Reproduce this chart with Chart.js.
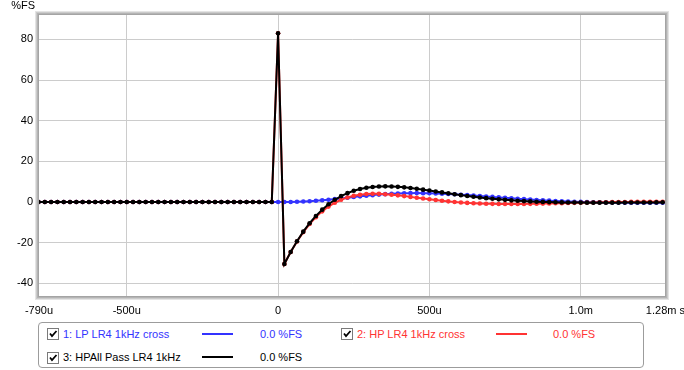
<!DOCTYPE html>
<html><head><meta charset="utf-8">
<script src="https://cdn.jsdelivr.net/npm/chart.js@4.4.1/dist/chart.umd.min.js"></script>
<style>
body{margin:0;background:#fff;width:684px;height:370px;overflow:hidden;font-family:"Liberation Sans",Arial,sans-serif;}
#wrap{position:absolute;left:0;top:0;width:684px;height:321px;}
#legend{position:absolute;left:38px;top:322px;width:604px;height:44px;border:1px solid #9c9c9c;border-radius:4px;}
.lg{position:absolute;font-size:11px;line-height:14px;white-space:nowrap;}
.cb{position:absolute;width:10px;height:10px;border:1px solid #7a7a7a;background:#fff;}
.cb svg{position:absolute;left:0;top:0;}
.ln{position:absolute;height:2px;width:31px;}
</style></head>
<body>
<div id="wrap"><canvas id="c" width="684" height="321"></canvas></div>
<div id="legend"></div>
<script>
// ---- data ----
const sampleRateHz = 48000;
const firstSample = -38;
const seriesNames = ['1: LP LR4 1kHz cross', '2: HP LR4 1kHz cross', '3: HPAll Pass LR4 1kHz'];
const seriesColors = ['#3333ff', '#ff3333', '#000000'];
const legendReadouts = ['0.0 %FS', '0.0 %FS', '0.0 %FS'];
const xTickValues = [-790, -500, 0, 500, 1000, 1280];
const xTickLabels = ['-790u', '-500u', '0', '500u', '1.0m', '1.28m s'];
const yTickValues = [-40, -20, 0, 20, 40, 60, 80];
const yTickLabels = ['-40', '-20', '0', '20', '40', '60', '80'];
const yUnit = '%FS';

const lpValues = [
  0,0,0,0,0,0,0,0,0,0, 0,0,0,0,0,0,0,0,0,0, 0,0,0,0,0,0,0,0,0,0, 0,0,0,0,0,0,0,0,
  0, 0.00, 0.03, 0.10, 0.21, 0.38, 0.59, 0.84, 1.13, 1.45,
  1.78, 2.12, 2.46, 2.78, 3.09, 3.38, 3.63, 3.85, 4.04, 4.18,
  4.28, 4.35, 4.37, 4.35, 4.30, 4.21, 4.10, 3.95, 3.79, 3.60,
  3.40, 3.18, 2.96, 2.73, 2.50, 2.27, 2.04, 1.81, 1.60, 1.39,
  1.19, 1.00, 0.83, 0.66, 0.51, 0.38, 0.25, 0.14, 0.05, -0.04,
  -0.11, -0.17, -0.22, -0.26, -0.30, -0.32, -0.34, -0.35, -0.35, -0.35,
  -0.34, -0.34
];
const hpValues = [
  0,0,0,0,0,0,0,0,0,0, 0,0,0,0,0,0,0,0,0,0, 0,0,0,0,0,0,0,0,0,0, 0,0,0,0,0,0,0,0,
  83, -30.49, -24.61, -19.39, -14.80, -10.83, -7.44, -4.60, -2.25, -0.37,
  1.12, 2.25, 3.05, 3.60, 3.91, 4.03, 4.00, 3.84, 3.59, 3.28,
  2.91, 2.52, 2.12, 1.72, 1.33, 0.96, 0.62, 0.31, 0.02, -0.22,
  -0.43, -0.59, -0.74, -0.84, -0.92, -0.97, -0.99, -0.99, -0.98, -0.95,
  -0.90, -0.85, -0.78, -0.71, -0.64, -0.57, -0.50, -0.42, -0.35, -0.28,
  -0.22, -0.16, -0.11, -0.06, -0.01, 0.02, 0.06, 0.09, 0.11, 0.13,
  0.14, 0.15
];
const apValues = [
  0,0,0,0,0,0,0,0,0,0, 0,0,0,0,0,0,0,0,0,0, 0,0,0,0,0,0,0,0,0,0, 0,0,0,0,0,0,0,0,
  83, -30.49, -24.58, -19.29, -14.58, -10.45, -6.85, -3.76, -1.12, 1.08,
  2.90, 4.36, 5.51, 6.38, 7.00, 7.41, 7.63, 7.70, 7.63, 7.46,
  7.20, 6.87, 6.49, 6.07, 5.63, 5.17, 4.71, 4.26, 3.81, 3.38,
  2.97, 2.59, 2.23, 1.89, 1.58, 1.30, 1.05, 0.82, 0.62, 0.44,
  0.29, 0.15, 0.04, -0.05, -0.13, -0.19, -0.24, -0.28, -0.30, -0.32,
  -0.33, -0.33, -0.33, -0.32, -0.31, -0.30, -0.28, -0.26, -0.24, -0.22,
  -0.20, -0.18
];

// ---- build ----
const timeUs = lpValues.map((_, i) => (firstSample + i) * 1e6 / sampleRateHz);
const allSeries = [lpValues, hpValues, apValues];
const drawOrder = [3, 2, 1];
const FONT = {family: '"Liberation Sans", Arial, sans-serif', size: 11};

const datasets = allSeries.map((vals, s) => ({
  label: seriesNames[s],
  data: timeUs.map((t, i) => ({x: t, y: vals[i]})),
  borderColor: seriesColors[s],
  backgroundColor: seriesColors[s],
  pointBackgroundColor: seriesColors[s],
  pointBorderWidth: 0,
  pointRadius: 2.3,
  borderWidth: 2,
  tension: 0,
  order: drawOrder[s]
}));

const framePlugin = {
  id: 'frame',
  afterDraw(chart) {
    const {ctx, chartArea: a} = chart;
    const cols = ['#a4a4a4', '#b4b4b4', '#cbcbcb', '#e4e4e4'];
    ctx.save();
    ctx.lineWidth = 1;
    cols.forEach((c, k) => {
      ctx.strokeStyle = c;
      ctx.strokeRect(Math.round(a.left) - 0.5 - k, Math.round(a.top) - 0.5 - k,
        Math.round(a.right) - Math.round(a.left) + 1 + 2 * k,
        Math.round(a.bottom) - Math.round(a.top) + 1 + 2 * k);
    });
    ctx.fillStyle = '#000';
    ctx.font = '11px "Liberation Sans", Arial, sans-serif';
    ctx.textAlign = 'right';
    ctx.textBaseline = 'middle';
    ctx.fillText(yUnit, 35, 6);
    ctx.restore();
  }
};

new Chart(document.getElementById('c'), {
  type: 'line',
  data: {datasets},
  options: {
    responsive: false,
    animation: false,
    devicePixelRatio: 1,
    layout: {padding: {top: 15, right: 0, left: 0, bottom: 0}},
    plugins: {legend: {display: false}, tooltip: {enabled: false}},
    scales: {
      x: {
        type: 'linear',
        min: -790, max: 1280,
        afterBuildTicks: sc => { sc.ticks = xTickValues.map(v => ({value: v})); },
        afterFit: sc => { sc.height = 25; },
        ticks: {
          autoSkip: false, maxRotation: 0, padding: -1, color: '#000', font: FONT,
          callback: (v, i) => xTickLabels[i]
        },
        grid: {
          color: c => (c.tick && (c.tick.value === xTickValues[0] || c.tick.value === xTickValues[xTickValues.length - 1])) ? 'rgba(0,0,0,0)' : '#cccccc',
          lineWidth: 1, drawTicks: true, tickLength: 9, tickColor: 'rgba(0,0,0,0)'
        },
        border: {display: false}
      },
      y: {
        type: 'linear',
        min: -46.23, max: 91.97,
        afterBuildTicks: sc => { sc.ticks = yTickValues.map(v => ({value: v})); },
        afterFit: sc => { sc.width = 39; },
        ticks: {
          padding: 6, color: '#000', font: FONT,
          callback: (v, i) => yTickLabels[i]
        },
        grid: {color: '#cccccc', lineWidth: 1, drawTicks: false},
        border: {display: false}
      }
    }
  },
  plugins: [framePlugin]
});

// ---- legend (HTML) ----
const legendPos = [
  {cb: [47, 328], text: [63, 327], line: [202, 333], val: [260, 327]},
  {cb: [341, 328], text: [357, 327], line: [496, 333], val: [553, 327]},
  {cb: [47, 352], text: [63, 350], line: [202, 356], val: [260, 350]}
];
const body = document.body;
seriesNames.forEach((name, s) => {
  const p = legendPos[s];
  const cb = document.createElement('div');
  cb.className = 'cb';
  cb.style.left = p.cb[0] + 'px'; cb.style.top = p.cb[1] + 'px';
  cb.innerHTML = '<svg width="10" height="10"><polyline points="2,4.5 4,7 8.5,2" fill="none" stroke="#000" stroke-width="1.8"/></svg>';
  body.appendChild(cb);
  const t = document.createElement('div');
  t.className = 'lg'; t.textContent = name; t.style.color = seriesColors[s];
  t.style.left = p.text[0] + 'px'; t.style.top = p.text[1] + 'px';
  body.appendChild(t);
  const ln = document.createElement('div');
  ln.className = 'ln'; ln.style.background = seriesColors[s];
  ln.style.left = p.line[0] + 'px'; ln.style.top = p.line[1] + 'px';
  body.appendChild(ln);
  const v = document.createElement('div');
  v.className = 'lg'; v.textContent = legendReadouts[s]; v.style.color = seriesColors[s];
  v.style.left = p.val[0] + 'px'; v.style.top = p.val[1] + 'px';
  body.appendChild(v);
});
</script>
</body></html>
